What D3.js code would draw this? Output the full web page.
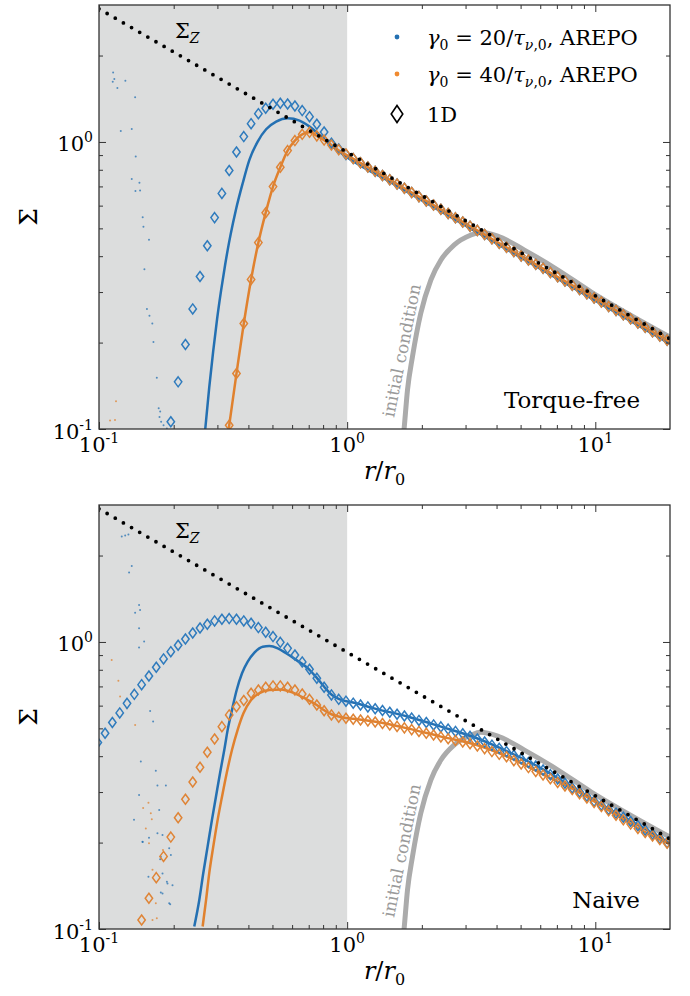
<!DOCTYPE html>
<html>
<head>
<meta charset="utf-8">
<script src="https://cdn.jsdelivr.net/npm/d3@7"></script>
<style>
  body { margin: 0; background: #fff; }
  text { font-family: "DejaVu Serif", serif; }
</style>
</head>
<body>
<div id="chart"></div>
<script>
/*
*   Surface density profiles: torque-free vs naive inner boundary
*/

const WD = 690, HT = 996
const margin = { left: 99, top: 5 }
const width = 571, height = 424
const panelGap = 500

// radii of the 1D grid (diamonds)
const rGrid = [
  0.0989,0.1058,0.1132,0.1212,0.1297,0.1388,0.1485,0.1589,0.1701,0.1820,
  0.1947,0.2084,0.2230,0.2386,0.2553,0.2732,0.2923,0.3128,0.3347,0.3581,
  0.3832,0.4101,0.4388,0.4697,0.5026,0.5378,0.5755,0.6159,0.6591,0.7053,
  0.7547,0.8076,0.8643,0.9249,0.9890,1.058,1.132,1.212,1.297,1.388,
  1.485,1.589,1.701,1.820,1.947,2.084,2.230,2.386,2.553,2.732,
  2.923,3.128,3.347,3.581,3.832,4.101,4.388,4.697,5.026,5.378,
  5.755,6.159,6.591,7.053,7.547,8.076,8.643,9.249,9.890,10.58,
  11.32,12.12,12.97,13.88,14.85,15.89,17.01,18.20,19.47]

// Torque-free panel, 1D diamonds
const diamBlueTop = [
  null,null,null,null,null,null,null,null,null,null,
  0.106,0.146,0.197,0.262,0.340,0.435,0.545,0.662,0.795,0.923,
  1.044,1.158,1.255,1.310,1.353,1.364,1.356,1.335,1.286,1.225,
  1.152,1.083,0.990,0.945,0.905,0.875,0.846,0.818,0.790,0.764,
  0.739,0.714,0.690,0.667,0.645,0.623,0.603,0.583,0.563,0.544,
  0.526,0.509,0.492,0.476,0.460,0.444,0.430,0.415,0.401,0.388,
  0.375,0.363,0.351,0.339,0.328,0.317,0.306,0.296,0.286,0.277,
  0.267,0.259,0.250,0.242,0.234,0.226,0.218,0.211,0.204]
const diamOrangeTop = [
  null,null,null,null,null,null,null,null,null,null,
  null,null,null,null,null,null,null,null,0.103,0.156,
  0.233,0.332,0.446,0.567,0.699,0.816,0.933,1.011,1.063,1.080,
  1.050,1.015,0.975,0.940,0.908,0.875,0.846,0.818,0.790,0.764,
  0.739,0.714,0.690,0.667,0.645,0.623,0.603,0.583,0.563,0.544,
  0.526,0.509,0.492,0.476,0.460,0.444,0.430,0.415,0.401,0.388,
  0.375,0.363,0.351,0.339,0.328,0.317,0.306,0.296,0.286,0.277,
  0.267,0.259,0.250,0.242,0.234,0.226,0.218,0.211,0.204]

// Naive panel, 1D diamonds
const diamBlueBot = [
  0.446,0.481,0.524,0.566,0.611,0.657,0.710,0.761,0.816,0.873,
  0.925,0.974,1.024,1.075,1.119,1.152,1.184,1.200,1.206,1.200,
  1.184,1.162,1.122,1.081,1.044,0.997,0.950,0.901,0.852,0.803,
  0.747,0.695,0.654,0.631,0.622,0.612,0.603,0.594,0.585,0.577,
  0.569,0.560,0.552,0.543,0.533,0.524,0.514,0.506,0.497,0.488,
  0.479,0.469,0.459,0.448,0.437,0.426,0.415,0.403,0.392,0.380,
  0.370,0.358,0.345,0.333,0.322,0.310,0.300,0.290,0.279,0.270,
  0.261,0.253,0.245,0.237,0.229,0.221,0.214,0.207,0.200]
const diamOrangeBot = [
  null,null,null,null,null,null,0.1075,0.128,0.151,0.179,
  0.209,0.244,0.283,0.325,0.366,0.413,0.459,0.507,0.557,0.595,
  0.625,0.663,0.680,0.695,0.703,0.703,0.695,0.680,0.659,0.631,
  0.603,0.576,0.557,0.547,0.542,0.538,0.535,0.531,0.526,0.520,
  0.514,0.508,0.502,0.495,0.488,0.481,0.474,0.467,0.460,0.454,
  0.448,0.442,0.434,0.425,0.415,0.406,0.398,0.386,0.376,0.365,
  0.354,0.344,0.334,0.324,0.315,0.306,0.296,0.286,0.276,0.267,
  0.258,0.249,0.240,0.232,0.224,0.217,0.211,0.205,0.199]

// AREPO profiles [r, Sigma]
const lineBlueTop = [[0.268,0.100],[0.278,0.139],[0.2884,0.186],[0.2992,0.242],[0.3105,0.304],[0.3221,0.372],
  [0.3342,0.446],[0.3467,0.522],[0.3565,0.582],[0.3794,0.718],[0.4037,0.866],[0.436,1.003],[0.4715,1.107],
  [0.5175,1.177],[0.5766,1.209],[0.6427,1.187],[0.7055,1.131],[0.774,1.058],[0.877,0.963],[0.992,0.889],
  [1.123,0.830],[1.5,0.723],[2,0.626],[3.36,0.483],[5,0.396],[10,0.280],[20,0.198]]
const lineOrangeTop = [[0.327,0.089],[0.3347,0.103],[0.3581,0.156],[0.3832,0.233],[0.4101,0.332],[0.4388,0.446],
  [0.4697,0.567],[0.5026,0.699],[0.5378,0.816],[0.5755,0.933],[0.6159,1.011],[0.6591,1.063],[0.7053,1.080],
  [0.762,1.045],[0.824,1.003],[0.933,0.930],[1.056,0.875],[1.5,0.735],[2,0.636],[3.36,0.491],[5,0.402],
  [10,0.285],[20,0.201]]
const lineBlueBot = [[0.242,0.102],[0.2535,0.126],[0.263,0.156],[0.274,0.194],[0.2852,0.240],[0.296,0.289],
  [0.3074,0.349],[0.3199,0.421],[0.330,0.494],[0.3436,0.580],[0.3588,0.680],[0.377,0.778],[0.3975,0.854],
  [0.4229,0.918],[0.457,0.963],[0.486,0.968],[0.5255,0.950],[0.5676,0.913],[0.623,0.866],[0.7053,0.800],
  [0.7547,0.750],[0.8076,0.698],[0.8643,0.656],[0.9249,0.633],[0.989,0.622],[1.056,0.615],[1.283,0.587],
  [1.75,0.55],[2.387,0.507],[3.254,0.4655],[4.437,0.415],[6.05,0.363],[8.25,0.309],[11.25,0.263],
  [15.35,0.227],[20,0.199]]
const lineOrangeBot = [[0.2616,0.102],[0.270,0.126],[0.278,0.156],[0.2888,0.194],[0.3007,0.240],[0.3131,0.289],
  [0.327,0.349],[0.3436,0.421],[0.362,0.494],[0.382,0.564],[0.410,0.628],[0.443,0.663],[0.486,0.680],
  [0.542,0.683],[0.604,0.666],[0.673,0.637],[0.7547,0.603],[0.8076,0.578],[0.8643,0.560],[0.9249,0.550],
  [0.989,0.543],[1.056,0.540],[1.283,0.528],[1.75,0.50],[2.387,0.468],[3.254,0.44],[4.437,0.398],
  [6.05,0.348],[8.25,0.305],[11.25,0.26],[15.35,0.221],[20,0.197]]

// scattered AREPO cells near the inner boundary
const noiseBlueTop = [[0.114,1.744],[0.1153,1.657],[0.1136,1.622],[0.1186,1.542],[0.1277,1.635],[0.1398,1.431],
  [0.1224,1.092],[0.1355,1.110],[0.1406,0.889],[0.1355,0.743],[0.1455,0.721],[0.1402,0.675],[0.1464,0.677],
  [0.150,0.547],[0.151,0.507],[0.159,0.456],[0.1524,0.360],[0.156,0.262],[0.1597,0.248],[0.164,0.233],
  [0.1657,0.201],[0.171,0.151],[0.174,0.118],[0.1764,0.115],[0.1753,0.110],[0.178,0.106],[0.182,0.103],[0.1877,0.1005]]
const noiseOrangeTop = [[0.1171,0.125],[0.1108,0.107],[0.116,0.1075]]
const noiseBlueBot = [[0.1235,2.33],[0.1314,2.37],[0.1275,2.35],[0.1355,1.84],[0.1322,1.744],[0.1398,1.265],
  [0.145,1.346],[0.1464,1.293],[0.145,1.116],[0.145,0.956],[0.152,1.003],[0.1607,0.575],[0.1652,0.528],
  [0.1474,0.383],[0.1694,0.356],[0.172,0.316],[0.186,0.316],[0.145,0.293],[0.1748,0.26],[0.1384,0.24],
  [0.172,0.2155],[0.1803,0.2126],[0.1497,0.2015],[0.1918,0.191],[0.1775,0.1786],[0.1948,0.181],[0.1803,0.156],
  [0.1888,0.144],[0.1978,0.142],[0.1803,0.133],[0.1918,0.123],[0.159,0.208],[0.150,0.201],[0.1764,0.175],
  [0.1582,0.152],[0.1877,0.146],[0.1775,0.134],[0.1936,0.122]]
const noiseOrangeBot = [[0.1125,0.866],[0.1197,0.733],[0.1216,0.645],[0.1294,0.588],[0.1398,0.514],[0.1582,0.2755],
  [0.1617,0.253],[0.1506,0.264],[0.1632,0.241],[0.1544,0.224],[0.159,0.199],[0.1643,0.161],[0.1694,0.123],
  [0.1643,0.1075],[0.171,0.109],[0.181,0.1885]]

// initial condition and Sigma_Z
const initCond = [[1.68,0.092],[1.696,0.1],[1.751,0.137],[1.834,0.179],[1.98,0.253],[2.175,0.331],[2.387,0.388],
  [2.701,0.438],[3.155,0.474],[3.45,0.485],[4.045,0.470],[5.18,0.42],[7.07,0.358],[9.63,0.300],[13.14,0.256],[20,0.209]]
const sigmaZ = [[0.1,2.91],[20,0.206]]

// ticks
const xMajor = [0.1, 1, 10]
const xMinor = [0.2,0.3,0.4,0.5,0.6,0.7,0.8,0.9,2,3,4,5,6,7,8,9]
const yMajor = [0.1, 1]
const yMinor = [0.2,0.3,0.4,0.5,0.6,0.7,0.8,0.9,2]
const xTickLabels = ["-1", "0", "1"]
const yTickLabels = ["-1", "0"]

const panels = [
  { name: "Torque-free", blueD: diamBlueTop, orangeD: diamOrangeTop, blueL: lineBlueTop, orangeL: lineOrangeTop,
    nb: noiseBlueTop, no: noiseOrangeTop },
  { name: "Naive", blueD: diamBlueBot, orangeD: diamOrangeBot, blueL: lineBlueBot, orangeL: lineOrangeBot,
    nb: noiseBlueBot, no: noiseOrangeBot }
]

const BLUE = "#2470b2", ORANGE = "#e0812e"

const svg = d3.select("#chart").append("svg")
    .attr("width", WD).attr("height", HT)
    .style("background", "#fff")

const xs = d3.scaleLog().domain([0.1, 20]).range([0, width])
const ys = d3.scaleLog().domain([0.1, 3]).range([height, 0])

const line = d3.line().x(d => xs(d[0])).y(d => ys(d[1])).curve(d3.curveMonotoneX)
const diamondPath = "M0,-5L3.7,0L0,5L-3.7,0Z"

panels.forEach((p, k) => {
  const g = svg.append("g")
      .attr("transform", "translate(" + margin.left + "," + (margin.top + k * panelGap) + ")")

  g.append("clipPath").attr("id", "clip" + k)
    .append("rect").attr("width", width).attr("height", height)

  const plot = g.append("g").attr("clip-path", "url(#clip" + k + ")")

  // shaded inner region
  plot.append("rect")
      .attr("x", xs(0.1)).attr("y", 0)
      .attr("width", xs(1) - xs(0.1)).attr("height", height)
      .attr("fill", "#dcdddd")

  plot.append("path").datum(initCond)
      .attr("d", line).attr("fill", "none")
      .attr("stroke", "#ababab").attr("stroke-width", 5)

  plot.selectAll(".nb").data(p.nb).enter().append("circle")
      .attr("cx", d => xs(d[0])).attr("cy", d => ys(d[1])).attr("r", 1)
      .attr("fill", BLUE).attr("opacity", 0.75)
  plot.selectAll(".no").data(p.no).enter().append("circle")
      .attr("cx", d => xs(d[0])).attr("cy", d => ys(d[1])).attr("r", 1)
      .attr("fill", ORANGE).attr("opacity", 0.75)

  plot.append("path").datum(p.blueL)
      .attr("d", line).attr("fill", "none")
      .attr("stroke", BLUE).attr("stroke-width", 2.5)
  plot.append("path").datum(p.orangeL)
      .attr("d", line).attr("fill", "none")
      .attr("stroke", ORANGE).attr("stroke-width", 2.5)

  const diam = (vals, color) => {
    plot.selectAll(null)
      .data(rGrid.map((r, i) => [r, vals[i]]).filter(d => d[1] != null))
      .enter().append("path")
        .attr("d", diamondPath)
        .attr("transform", d => "translate(" + xs(d[0]) + "," + ys(d[1]) + ")")
        .attr("fill", "none").attr("stroke", color).attr("stroke-width", 1.5)
  }
  diam(p.blueD, "#2f7bbd")
  diam(p.orangeD, "#df8436")

  // Sigma_Z
  plot.append("path").datum(sigmaZ)
      .attr("d", d3.line().x(d => xs(d[0])).y(d => ys(d[1])))
      .attr("fill", "none").attr("stroke", "#000")
      .attr("stroke-width", 3.8).attr("stroke-linecap", "round")
      .attr("stroke-dasharray", "0 9.4")

  // frame and inward ticks
  g.append("rect").attr("width", width).attr("height", height)
      .attr("fill", "none").attr("stroke", "#333").attr("stroke-width", 1.3)

  const tickAxis = (axis, vals, size, tr) => {
    const a = g.append("g").attr("transform", tr)
        .call(axis.tickValues(vals).tickSize(size).tickFormat(""))
    a.select(".domain").remove()
    a.selectAll("line").attr("stroke", "#333").attr("stroke-width", 1)
  }
  tickAxis(d3.axisBottom(xs), xMajor, -7, "translate(0," + height + ")")
  tickAxis(d3.axisBottom(xs), xMinor, -4, "translate(0," + height + ")")
  tickAxis(d3.axisTop(xs), xMajor, -7, "translate(0,0)")
  tickAxis(d3.axisTop(xs), xMinor, -4, "translate(0,0)")
  tickAxis(d3.axisLeft(ys), yMajor, -7, "translate(0,0)")
  tickAxis(d3.axisLeft(ys), yMinor, -4, "translate(0,0)")
  tickAxis(d3.axisRight(ys), yMajor, -7, "translate(" + width + ",0)")
  tickAxis(d3.axisRight(ys), yMinor, -4, "translate(" + width + ",0)")

  // tick labels 10^n
  xMajor.forEach((v, i) => {
    const t = g.append("text").attr("x", xs(v)).attr("y", height + 23)
        .attr("text-anchor", "middle").attr("font-size", 21)
    t.append("tspan").text("10")
    t.append("tspan").attr("font-size", 14).attr("dy", -9).text(xTickLabels[i])
  })
  yMajor.forEach((v, i) => {
    const t = g.append("text").attr("x", -6).attr("y", ys(v) + 9.5)
        .attr("text-anchor", "end").attr("font-size", 21)
    t.append("tspan").text("10")
    t.append("tspan").attr("font-size", 14).attr("dy", -9).text(yTickLabels[i])
  })

  // axis labels
  const xl = g.append("text").attr("x", width / 2).attr("y", height + 50)
      .attr("text-anchor", "middle").attr("font-size", 24)
  xl.append("tspan").attr("font-style", "italic").text("r")
  xl.append("tspan").text("/")
  xl.append("tspan").attr("font-style", "italic").text("r")
  xl.append("tspan").attr("font-size", 16).attr("dy", 6).text("0")

  g.append("text")
      .attr("transform", "translate(" + (37 - margin.left) + "," + height / 2 + ") rotate(-90)")
      .attr("text-anchor", "middle").attr("font-size", 25)
      .text("Σ")

  // Sigma_Z label
  const sz = g.append("text").attr("x", 76).attr("y", 33).attr("font-size", 21)
  sz.append("tspan").text("Σ")
  sz.append("tspan").attr("font-size", 14).attr("font-style", "italic").attr("dy", 5).text("Z")

  // initial condition label
  g.append("text")
      .attr("transform", "translate(" + (394 - margin.left) + "," + 413 + ") rotate(-78.5)")
      .attr("font-size", 17).attr("fill", "#9a9a9a")
      .text("initial condition")

  // panel name
  g.append("text").attr("x", 541).attr("y", 403)
      .attr("text-anchor", "end").attr("font-size", 23)
      .text(p.name)
})

// legend (top panel)
const leg = svg.append("g")
const legRows = [
  { y: 37, color: BLUE, val: "20" },
  { y: 74, color: "#f08a30", val: "40" }
]
legRows.forEach(d => {
  leg.append("circle").attr("cx", 397).attr("cy", d.y).attr("r", 2.4).attr("fill", d.color)
  const t = leg.append("text").attr("x", 427).attr("y", d.y + 8).attr("font-size", 21)
  t.append("tspan").attr("font-style", "italic").text("γ")
  t.append("tspan").attr("font-size", 14).attr("dy", 5).text("0")
  t.append("tspan").attr("dy", -5).text(" = " + d.val + "/")
  t.append("tspan").attr("font-style", "italic").text("τ")
  t.append("tspan").attr("font-size", 14).attr("dy", 5).attr("font-style", "italic").text("ν")
  t.append("tspan").attr("font-size", 14).text(",0")
  t.append("tspan").attr("dy", -5).text(", AREPO")
})
leg.append("path").attr("d", "M0,-8.5L5.8,0L0,8.5L-5.8,0Z")
    .attr("transform", "translate(397,114)")
    .attr("fill", "none").attr("stroke", "#000").attr("stroke-width", 1.6)
leg.append("text").attr("x", 427).attr("y", 122).attr("font-size", 21).text("1D")
</script>
</body>
</html>
